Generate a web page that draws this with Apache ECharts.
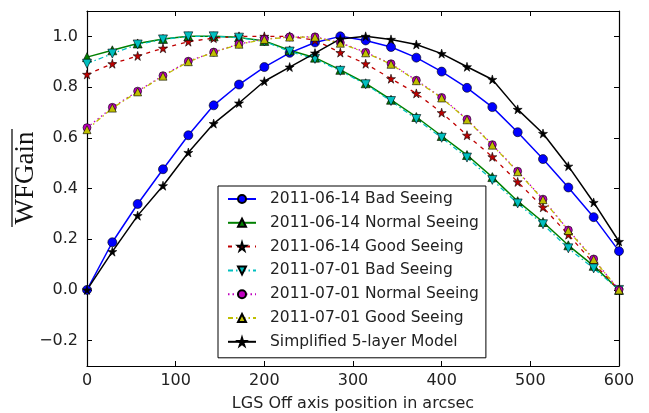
<!DOCTYPE html>
<html>
<head>
<meta charset="utf-8">
<script src="https://cdn.jsdelivr.net/npm/echarts@6/dist/echarts.min.js"></script>
<style>html,body{margin:0;padding:0;background:#fff;}#c{width:649px;height:413px;}</style>
</head>
<body>
<div id="c"></div>
<script>
const xPos = [0, 28.57, 57.14, 85.71, 114.29, 142.86, 171.43, 200, 228.57, 257.14, 285.71, 314.29, 342.86, 371.43, 400, 428.57, 457.14, 485.71, 514.29, 542.86, 571.43, 600];
const bad0614 = [0, 0.188, 0.339, 0.476, 0.610, 0.728, 0.810, 0.879, 0.935, 0.976, 1.0, 0.984, 0.958, 0.916, 0.861, 0.797, 0.721, 0.622, 0.516, 0.404, 0.287, 0.153];
const normal0614 = [0.918, 0.945, 0.972, 0.99, 1.0, 1.0, 0.996, 0.982, 0.945, 0.916, 0.868, 0.815, 0.75, 0.682, 0.607, 0.532, 0.445, 0.35, 0.268, 0.176, 0.095, 0.0];
const good0614 = [0.85, 0.892, 0.923, 0.953, 0.979, 0.993, 1.0, 1.0, 1.0, 0.985, 0.936, 0.892, 0.833, 0.775, 0.699, 0.610, 0.525, 0.426, 0.326, 0.218, 0.105, 0.0];
const bad0701 = [0.892, 0.932, 0.968, 0.988, 1.0, 1.0, 0.995, 0.98, 0.94, 0.911, 0.864, 0.811, 0.745, 0.674, 0.6, 0.522, 0.434, 0.341, 0.259, 0.164, 0.085, 0.0];
const normal0701 = [0.64, 0.72, 0.784, 0.845, 0.902, 0.938, 0.97, 0.989, 0.998, 0.998, 0.975, 0.937, 0.892, 0.827, 0.759, 0.673, 0.573, 0.468, 0.358, 0.236, 0.122, 0.0];
const good0701 = [0.632, 0.717, 0.781, 0.843, 0.9, 0.937, 0.969, 0.988, 0.997, 0.997, 0.973, 0.935, 0.89, 0.825, 0.757, 0.671, 0.571, 0.466, 0.356, 0.234, 0.12, 0.0];
const model5 = [0, 0.151, 0.293, 0.411, 0.542, 0.656, 0.737, 0.823, 0.879, 0.934, 0.99, 1.0, 0.988, 0.968, 0.932, 0.880, 0.830, 0.712, 0.617, 0.488, 0.345, 0.191];
const seriesNames = ['2011-06-14 Bad Seeing', '2011-06-14 Normal Seeing', '2011-06-14 Good Seeing', '2011-07-01 Bad Seeing', '2011-07-01 Normal Seeing', '2011-07-01 Good Seeing', 'Simplified 5-layer Model'];
const xTicks = [0, 100, 200, 300, 400, 500, 600];
const yTicks = [-0.2, 0, 0.2, 0.4, 0.6, 0.8, 1.0];
const yTitle = 'WFGain';
const xTitle = 'LGS Off axis position in arcsec';

const STAR = 'path://M50,0 L61,35 L98,35 L68,57 L79,91 L50,70 L21,91 L32,57 L2,35 L39,35 Z';
const pair = ys => xPos.map((x, i) => [x, ys[i]]);
function mk(name, ys, color, lineType, symbol, size, rot, lw) {
  return {
    name, type: 'line', data: pair(ys), color,
    symbol, symbolSize: size, symbolRotate: rot || 0,
    lineStyle: { color, width: lw, type: lineType },
    itemStyle: { color, borderColor: '#000', borderWidth: 0.6 },
    emphasis: { disabled: true }, animation: false, clip: false
  };
}
const font = 'DejaVu Sans';
const frameAxis = { lineStyle: { color: '#000', width: 1.2 }, onZero: false, show: true };
const chart = echarts.init(document.getElementById('c'));
chart.setOption({
  backgroundColor: '#fff',
  animation: false,
  grid: { left: 87, right: 30, top: 11, bottom: 47, outerBoundsMode: 'none', containLabel: false },
  xAxis: [{
    type: 'value', min: 0, max: 600,
    axisLine: frameAxis,
    axisTick: { inside: true, length: 5, lineStyle: { color: '#000' }, customValues: xTicks },
    axisLabel: { color: '#222', fontFamily: font, fontSize: 16, margin: 7, customValues: xTicks },
    splitLine: { show: false },
    name: xTitle, nameLocation: 'middle', nameGap: 30,
    nameTextStyle: { color: '#222', fontFamily: font, fontSize: 16 }
  }, {
    type: 'value', min: 0, max: 600, position: 'top',
    axisLine: frameAxis,
    axisTick: { inside: true, length: 5, lineStyle: { color: '#000' }, customValues: xTicks },
    axisLabel: { show: false }, splitLine: { show: false }
  }],
  yAxis: [{
    type: 'value', min: -0.3, max: 1.1,
    axisLine: frameAxis,
    axisTick: { show: true, inside: true, length: 5, lineStyle: { color: '#000' }, customValues: yTicks },
    axisLabel: { color: '#222', fontFamily: font, fontSize: 16, margin: 9, customValues: yTicks,
      formatter: v => { const s = Math.abs(v) < 1e-9 ? '0.0' : v.toFixed(1); return s.replace('-', '\u2212'); } },
    splitLine: { show: false }
  }, {
    type: 'value', min: -0.3, max: 1.1, position: 'right',
    axisLine: frameAxis,
    axisTick: { show: true, inside: true, length: 5, lineStyle: { color: '#000' }, customValues: yTicks },
    axisLabel: { show: false }, splitLine: { show: false }
  }],
  graphic: [{
    type: 'group', x: 26, y: 178, rotation: Math.PI / 2,
    children: [
      { type: 'text', style: { text: yTitle, x: 0, y: 0, align: 'center', verticalAlign: 'middle',
          font: '27px "Liberation Serif"', fill: '#111' } },
      { type: 'line', shape: { x1: -49, y1: -14, x2: 49, y2: -14 }, style: { stroke: '#111', lineWidth: 1.3 } }
    ]
  }],
  legend: {
    orient: 'vertical', left: 218, top: 186,
    backgroundColor: '#fff', borderColor: '#000', borderWidth: 1,
    padding: [5, 7, 8, 9], itemGap: 7.8, itemWidth: 28, itemHeight: 10,
    textStyle: { fontFamily: font, fontSize: 15.5, color: '#222', lineHeight: 16, padding: [0, 0, 0, 9] },
    data: seriesNames
  },
  series: [
    mk(seriesNames[0], bad0614, '#0000ff', 'solid', 'circle', 9, 0, 1.5),
    mk(seriesNames[1], normal0614, '#008000', 'solid', 'triangle', 9, 0, 1.5),
    mk(seriesNames[2], good0614, '#bf0000', [4, 5], STAR, 9, 0, 1.3),
    mk(seriesNames[3], bad0701, '#00bfbf', [5, 3, 1.5, 3], 'triangle', 9, 180, 1.3),
    mk(seriesNames[4], normal0701, '#bf00bf', [1.5, 3], 'circle', 8, 0, 1.3),
    mk(seriesNames[5], good0701, '#bfbf00', [5, 3, 1.5, 3], 'triangle', 8, 0, 1.3),
    mk(seriesNames[6], model5, '#000000', 'solid', STAR, 9, 0, 1.5)
  ]
});
</script>
</body>
</html>
